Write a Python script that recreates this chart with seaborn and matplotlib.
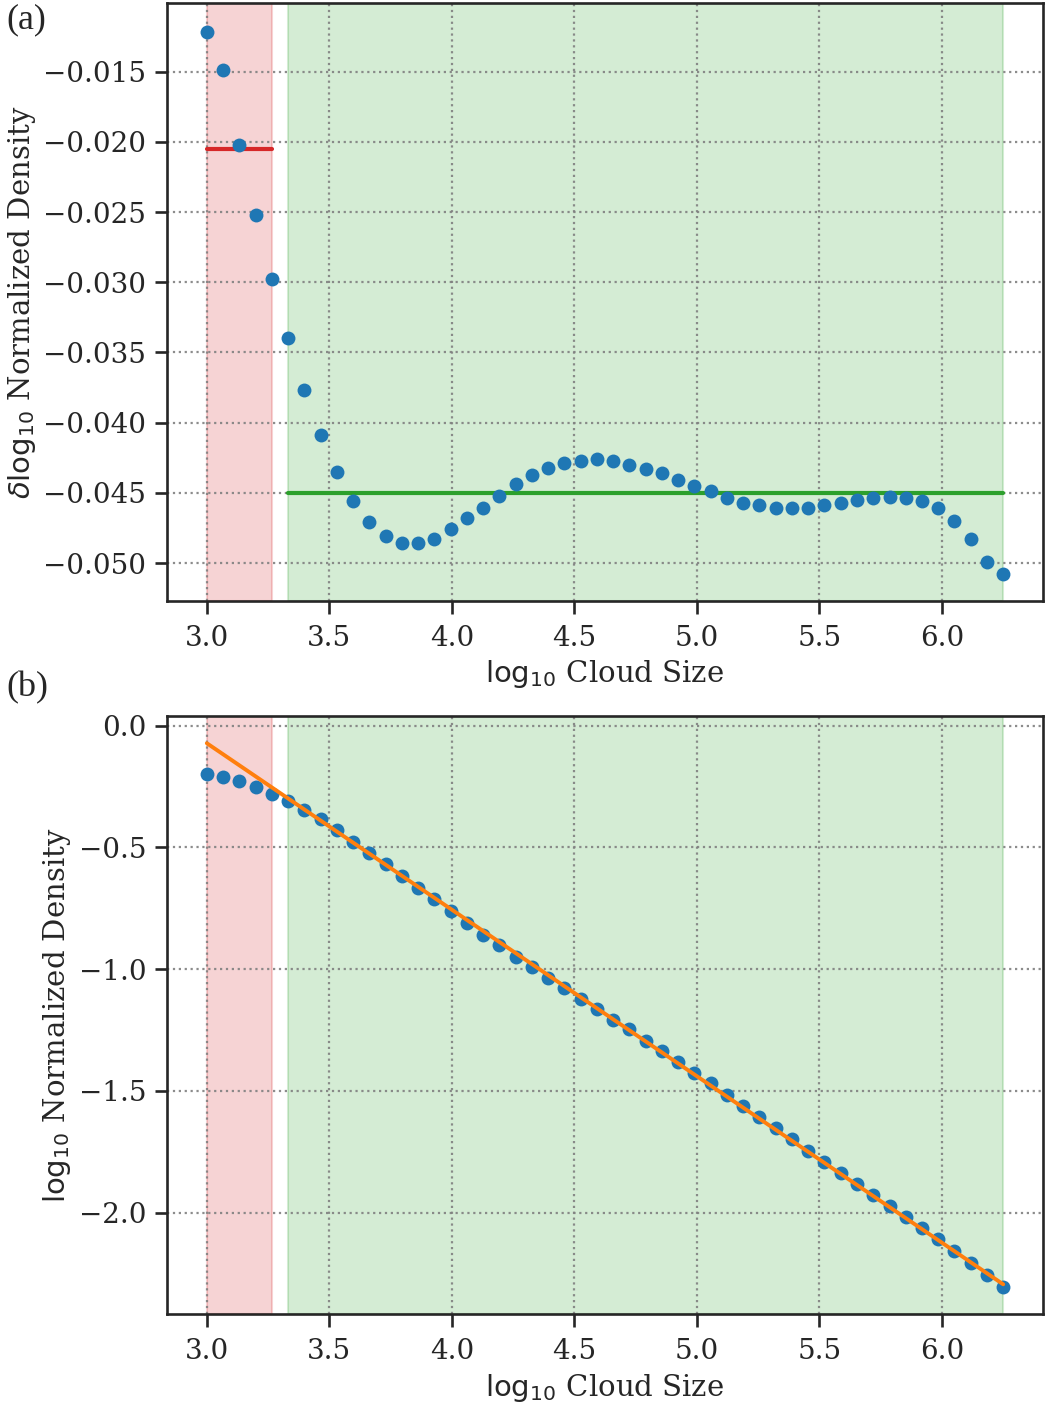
import numpy as np
import pandas as pd
import matplotlib
matplotlib.use("Agg")
import matplotlib.pyplot as plt
import seaborn as sns

# log10 cloud size bins
cloud_size = [3.000, 3.066, 3.133, 3.199, 3.265, 3.332, 3.398, 3.464, 3.531, 3.597,
              3.663, 3.730, 3.796, 3.862, 3.929, 3.995, 4.061, 4.128, 4.194, 4.260,
              4.327, 4.393, 4.459, 4.526, 4.592, 4.658, 4.724, 4.791, 4.857, 4.923,
              4.990, 5.056, 5.122, 5.189, 5.255, 5.321, 5.388, 5.454, 5.520, 5.587,
              5.653, 5.719, 5.786, 5.852, 5.918, 5.985, 6.051, 6.117, 6.184, 6.250]

# (a) delta log10 normalized density
delta_density = [-0.0122, -0.0149, -0.0202, -0.0252, -0.0298, -0.0340, -0.0377, -0.0409, -0.0435, -0.0456,
                 -0.0471, -0.0481, -0.0486, -0.0486, -0.0483, -0.0476, -0.0468, -0.0461, -0.0452, -0.0444,
                 -0.0437, -0.0432, -0.0429, -0.0427, -0.0426, -0.0427, -0.0430, -0.0433, -0.0436, -0.0441,
                 -0.0445, -0.0449, -0.0454, -0.0457, -0.0459, -0.0461, -0.0461, -0.0461, -0.0459, -0.0457,
                 -0.0455, -0.0454, -0.0453, -0.0454, -0.0456, -0.0461, -0.0470, -0.0483, -0.0499, -0.0508]

# (b) log10 normalized density
log_density = [-0.198, -0.210, -0.229, -0.251, -0.281, -0.311, -0.348, -0.384, -0.429, -0.476,
               -0.521, -0.569, -0.619, -0.668, -0.713, -0.761, -0.811, -0.858, -0.901, -0.948,
               -0.991, -1.036, -1.078, -1.122, -1.163, -1.207, -1.247, -1.294, -1.335, -1.380,
               -1.425, -1.468, -1.515, -1.561, -1.605, -1.652, -1.699, -1.745, -1.790, -1.836,
               -1.881, -1.928, -1.973, -2.018, -2.064, -2.110, -2.157, -2.207, -2.255, -2.304]

# regions and fits
red_region = (3.000, 3.265)
green_region = (3.332, 6.250)
red_level = -0.0205
green_level = -0.0450
fit_slope = -0.6837
fit_intercept = 1.979

df = pd.DataFrame({"size": cloud_size, "delta": delta_density, "dens": log_density})

sns.set_theme(context="talk", style="ticks")
plt.rcParams["font.family"] = ["DejaVu Serif"]
plt.rcParams["mathtext.fontset"] = "dejavusans"
plt.rcParams["axes.edgecolor"] = "#262626"
plt.rcParams["axes.linewidth"] = 1.9

fig = plt.figure(figsize=(10.47, 14.07), dpi=100)
ax1 = fig.add_axes([0.1595, 0.5729, 0.8367, 0.4250])
ax2 = fig.add_axes([0.1595, 0.0661, 0.8367, 0.4250])

def fondo(ax):
    ax.axvspan(*red_region, color="tab:red", alpha=0.2, zorder=0)
    ax.axvspan(*green_region, color="tab:green", alpha=0.2, zorder=0)
    ax.grid(True, linestyle=":", color="gray", linewidth=1.6, alpha=0.9)
    ax.set_axisbelow(True)
    ax.tick_params(axis="both", labelsize=20, length=9, width=1.9, pad=6)
    ax.tick_params(axis="x", pad=8)

# --- panel (a)
fondo(ax1)
sns.scatterplot(data=df, x="size", y="delta", ax=ax1, color="tab:blue", s=100,
                linewidth=0, zorder=3)
ax1.plot(red_region, [red_level, red_level], color="tab:red", linewidth=3.0, zorder=2)
ax1.plot(green_region, [green_level, green_level], color="tab:green", linewidth=3.0, zorder=2)
ax1.set_xlabel(r"$\log_{10}\,$Cloud Size", fontsize=21, labelpad=5)
ax1.set_ylabel(r"$\delta\log_{10}\,$Normalized Density", fontsize=21)
ax1.set_yticks([-0.015, -0.020, -0.025, -0.030, -0.035, -0.040, -0.045, -0.050])
ax1.set_xticks([3.0, 3.5, 4.0, 4.5, 5.0, 5.5, 6.0])

# --- panel (b)
fondo(ax2)
sns.scatterplot(data=df, x="size", y="dens", ax=ax2, color="tab:blue", s=100,
                linewidth=0, zorder=3)
fit_x = [cloud_size[0], cloud_size[-1]]
fit_y = [fit_slope * v + fit_intercept for v in fit_x]
sns.lineplot(x=fit_x, y=fit_y, ax=ax2, color="tab:orange", linewidth=2.8, zorder=4)
ax2.set_xlabel(r"$\log_{10}\,$Cloud Size", fontsize=21, labelpad=5)
ax2.set_ylabel(r"$\log_{10}\,$Normalized Density", fontsize=21)
ax2.set_yticks([0.0, -0.5, -1.0, -1.5, -2.0])
ax2.set_xticks([3.0, 3.5, 4.0, 4.5, 5.0, 5.5, 6.0])

for ax in (ax1, ax2):
    ax.set_xlim(2.8375, 6.4125)
ax1.set_ylim(-0.0527, -0.0101)
ax2.set_ylim(-2.416, 0.0396)

fig.text(0.006, 0.9858, "(a)", fontsize=26, family=["Liberation Serif"], va="center", ha="left")
fig.text(0.006, 0.511, "(b)", fontsize=26, family=["Liberation Serif"], va="center", ha="left")

fig.savefig("out.png", dpi=100)
